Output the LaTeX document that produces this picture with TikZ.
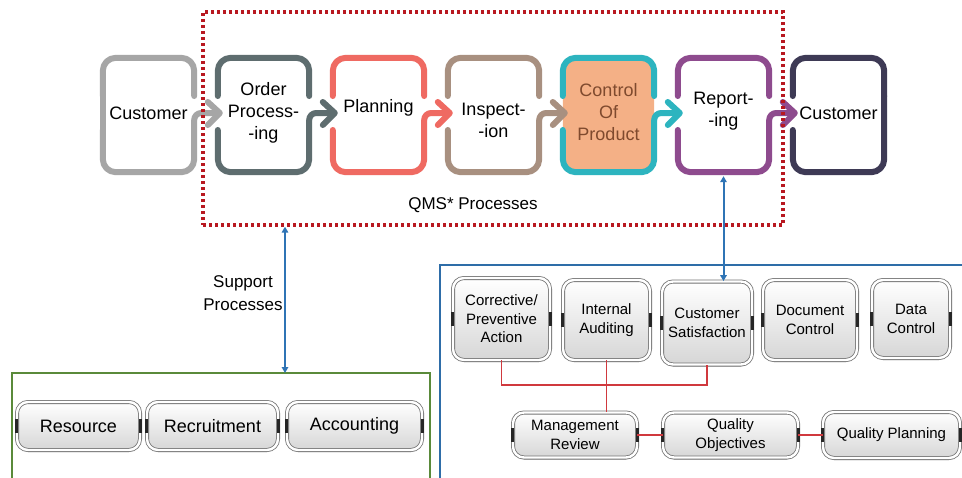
\documentclass[tikz,border=0pt]{standalone}
\usepackage{fontspec}
\setmainfont{Liberation Sans}
\usetikzlibrary{calc,arrows.meta,shadows}

\definecolor{cGray}{HTML}{A6A6A6}
\definecolor{cSlate}{HTML}{5E6D6F}
\definecolor{cCoral}{HTML}{EF6A62}
\definecolor{cTan}{HTML}{A89080}
\definecolor{cTeal}{HTML}{2DB4BF}
\definecolor{cPeach}{HTML}{F4B086}
\definecolor{cPlum}{HTML}{8E4B8E}
\definecolor{cNavy}{HTML}{3E3A55}
\definecolor{cQms}{HTML}{B81820}
\definecolor{cBlueFrame}{HTML}{2E6DA8}
\definecolor{cBlueArrow}{HTML}{2F74B5}
\definecolor{cGreen}{HTML}{5A8A3A}
\definecolor{cLink}{HTML}{D0393E}
\definecolor{cBrown}{HTML}{7F4A2E}

\begin{document}
\begin{tikzpicture}[x=1pt,y=-1pt,
  procbox/.style={rectangle, minimum width=91pt, minimum height=114pt, inner sep=0pt},
  ring/.style={line width=6pt, rounded corners=13pt, line cap=round, line join=round, draw=#1},
  chev/.style={line width=6pt, line cap=round, line join=round, draw=#1},
  proctext/.style={align=center, inner sep=0pt, font=\fontsize{18}{22}\selectfont},
  btn/.style={draw=black!55, line width=0.8pt, double=white, double distance=2.4pt,
    rounded corners=11pt, top color=white, bottom color=black!16,
    drop shadow={shadow xshift=0pt, shadow yshift=-2pt, opacity=.35},
    inner sep=0pt, align=center},
  bigbtn/.style={btn, minimum height=48pt, font=\fontsize{18}{22}\selectfont},
  smallbtn/.style={btn, font=\fontsize{15}{18.5}\selectfont},
  tab/.style={line width=2.4pt, draw=black!85},
  link/.style={draw=cLink, line width=1.3pt},
  barrow/.style={draw=cBlueArrow, line width=2pt, {Triangle[length=6pt,width=6.5pt]}-{Triangle[length=6pt,width=6.5pt]}},
]
\useasboundingbox (0,0) rectangle (962,477);
\fill[white] (0,0) rectangle (962,477);

% ---- process chain --------------------------------------------------
\foreach \i in {0,...,6}
  \node[procbox] (b\i) at (148.5+115*\i, 115) {};

% fill of the highlighted step
\fill[cPeach, rounded corners=13pt] (b4.north west) rectangle (b4.south east);

% upper halves of the frames
\foreach \i/\c in {0/cGray,1/cSlate,2/cCoral,3/cTan,4/cTeal,5/cPlum,6/cNavy}
  \draw[ring=\c] ($(b\i.west)+(0,-19)$) -- (b\i.north west) -- (b\i.north east) -- ($(b\i.east)+(0,-19)$);

% lower halves, each turning into the arrow towards the next step
\foreach \i/\j/\c in {0/1/cGray,1/2/cSlate,2/3/cCoral,3/4/cTan,4/5/cTeal,5/6/cPlum}{
  \draw[ring=\c] ($(b\i.west)+(0,15)$) -- (b\i.south west) -- (b\i.south east)
     [rounded corners=7pt] -- ($(b\i.east)+(0,-2)$) -- ($(b\j.west)+(0,-2)$);
  \draw[chev=\c] ($(b\j.west)+(-10,-13)$) -- ($(b\j.west)+(2,-2)$) -- ($(b\j.west)+(-10,10)$);
}
\draw[ring=cNavy] ($(b6.west)+(0,15)$) -- (b6.south west) -- (b6.south east) -- ($(b6.east)+(0,-19)$);
\draw[ring=cGray, rounded corners=0pt] ($(b0.west)+(0,-20)$) -- ($(b0.west)+(0,16)$);

% step labels
\node[proctext] (t0) at (148.5,113) {Customer};
\node[proctext] (t1) at (263.5,113) {Order\\Process-\\-ing};
\node[proctext] (t2) at (378.5,108) {Planning};
\node[proctext] (t3) at (493.5,120) {Inspect-\\-ion};
\node[proctext, text=cBrown] (t4) at (608.5,112) {Control\\Of\\Product};
\node[proctext] (t5) at (723.5,111.5) {Report-\\-ing};
\node[proctext] (t6) at (838.5,113) {Customer};

% QMS frame
\node[draw=cQms, line width=3.3pt, dash pattern=on 3.1pt off 2.9pt,
      minimum width=580pt, minimum height=213pt, inner sep=0pt] (qms) at (493,118.5) {};
\node[font=\fontsize{17}{20}\selectfont, inner sep=0pt] (qmslbl) at (473,205) {QMS* Processes};

% ---- support processes ------------------------------------------------
\draw[draw=cGreen, line width=2.4pt] (12,480) |- (430,373) -- (430,480);
\coordinate (supTop) at (285,373);
\draw[barrow] (qms.south -| supTop) -- (supTop);
\node[align=center, inner sep=0pt, font=\fontsize{17}{22.5}\selectfont] (suplbl) at (243,293) {Support\\Processes};

\node[bigbtn, minimum width=123pt] (res) at (78.5,426) {Resource};
\node[bigbtn, minimum width=131pt] (rec) at (212.5,426) {Recruitment};
\node[bigbtn, minimum width=135pt] (acc) at (354.5,426) {Accounting};

% ---- QMS support activities -------------------------------------------
\draw[draw=cBlueFrame, line width=2.8pt] (440,480) |- (966,265);

\node[smallbtn, minimum width=97pt, minimum height=82pt] (cpa) at (501.5,319) {Corrective/\\Preventive\\Action};
\node[smallbtn, minimum width=87pt, minimum height=80pt] (ia)  at (606.5,320) {Internal\\Auditing};
\node[smallbtn, minimum width=90pt, minimum height=83pt] (cs)  at (707,323) {Customer\\Satisfaction};
\node[smallbtn, minimum width=94pt, minimum height=80pt] (dc)  at (810,320) {Document\\Control};
\node[smallbtn, minimum width=78pt, minimum height=78pt] (dac) at (911,319) {Data\\Control};

\node[smallbtn, minimum width=124pt, minimum height=45pt] (mr) at (575,435) {Management\\Review};
\node[smallbtn, minimum width=135pt, minimum height=45pt] (qo) at (730.5,435) {Quality\\Objectives};
\node[smallbtn, minimum width=137pt, minimum height=46pt] (qp) at (891.5,435) {Quality Planning};

% side tabs of the buttons
\foreach \n in {res,rec,acc,cpa,ia,cs,dc,dac,mr,qo,qp}{
  \draw[tab] ($(\n.west)+(0,-7)$) -- ($(\n.west)+(0,7)$);
  \draw[tab] ($(\n.east)+(0,-7)$) -- ($(\n.east)+(0,7)$);
}

% links between activities
\draw[link] (cpa.south) |- ($(cs.south)+(0,20)$) -- (cs.south);
\draw[link] (ia.south) -- (ia.south |- mr.north);
\draw[link] (mr.east) -- (qo.west);
\draw[link] (qo.east) -- (qp.west);

% reporting feeds the activities
\draw[barrow, shorten <=4pt] (b5.south) -- (b5.south |- cs.north);
\end{tikzpicture}
\end{document}
